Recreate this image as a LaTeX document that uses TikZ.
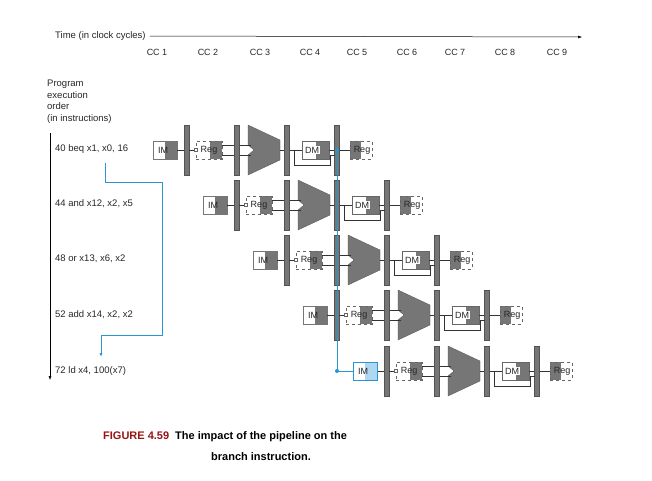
\documentclass[tikz,border=0pt]{standalone}
\usepackage{fontspec}
\setmainfont{Liberation Sans}
\usetikzlibrary{arrows.meta}
\definecolor{sg}{RGB}{118,118,118}
\definecolor{bl}{RGB}{40,150,210}
\definecolor{lb}{RGB}{175,215,240}
\definecolor{fr}{RGB}{150,20,20}
\tikzset{
 bar/.style={fill=sg,draw=sg!70!black,line width=0.3pt},
 wire/.style={draw=black!80,line width=0.8pt},
 lbl/.style={font=\fontsize{9.5}{11.5}\selectfont,anchor=west,inner sep=0,text=black!85},
 ulbl/.style={font=\fontsize{9}{10}\selectfont,inner sep=0,text=black!85},
 unit/.style={draw=black!60,line width=0.5pt},
}
\newcommand\stagerow[5]{% #1 suffix, #2 dx, #3 dy, #4 IM dark, #5 IM light
\begin{scope}[shift={(#2,-#3)}]
 \fill[#5] (153,-141) rectangle (165,-159);
 \fill[#4] (165,-141) rectangle (177,-159);
 \node[draw=#4,minimum width=24,minimum height=18,inner sep=0] (im#1) at (165,-150) {};
 \node[ulbl] at (163,-150) {IM};
 \node[bar,minimum width=5,minimum height=50,inner sep=0] (b1#1) at (186.5,-150) {};
 \fill[sg] (210,-141) rectangle (222,-159);
 \node[draw=black!60,dashed,minimum width=26,minimum height=18,inner sep=0] (rr#1) at (209,-150) {};
 \node[ulbl] at (209,-150) {Reg};
 \draw[unit,fill=white] (194,-148) rectangle (197,-151);
 \node[bar,minimum width=5,minimum height=50,inner sep=0] (b2#1) at (237,-150) {};
 \path[fill=sg,draw=sg!70!black,line width=0.3pt] (248,-125) -- (280,-140) -- (280,-160) -- (248,-175) -- (248,-155) -- (254,-150) -- (248,-145) -- cycle;
 \coordinate (alu#1) at (280,-150);
 \node[bar,minimum width=5,minimum height=50,inner sep=0] (b3#1) at (287,-150) {};
 \fill[sg] (316,-141) rectangle (329,-159);
 \node[draw=black!60,minimum width=27,minimum height=18,inner sep=0] (dm#1) at (315.5,-150) {};
 \node[ulbl,fill=white,inner sep=1pt] at (312,-150) {DM};
 \node[bar,minimum width=5,minimum height=50,inner sep=0] (b4#1) at (337,-150) {};
 \fill[sg] (350,-141) rectangle (361,-159);
 \node[draw=black!60,dashed,minimum width=22,minimum height=18,inner sep=0] (rw#1) at (361,-150) {};
 \node[ulbl] at (362,-150) {Reg};
 \draw[wire] (im#1.east) -- (b1#1.west);
 \draw[wire] (b1#1.east) -- (194,-150);
 \draw[wire] (rr#1.east|-0,-145) -- (b2#1.west|-0,-145);
 \draw[wire] (rr#1.east|-0,-155) -- (b2#1.west|-0,-155);
 \draw[wire] (b2#1.east|-0,-145) -- (251,-145);
 \draw[wire] (b2#1.east|-0,-155) -- (251,-155);
 \draw[wire] (alu#1) -- (b3#1.west);
 \draw[wire] (b3#1.east) -- (dm#1.west);
 \draw[wire] (dm#1.east) -- (b4#1.west);
 \draw[wire] (294,-150) -- (294,-165) -- (330,-165) -- (330,-155) -- (334.5,-155);
 \draw[wire] (b4#1.east) -- (rw#1.west);
\end{scope}}
\begin{document}
\begin{tikzpicture}[x=1pt,y=1pt]
\useasboundingbox (0,0) rectangle (652,-480);
\node[lbl] (time) at (55,-36) {Time (in clock cycles)};
\coordinate (tend) at (582,-37);
\draw[-{Latex[length=4pt]},line width=0.5pt] (time.east) ++(4,0) -- (tend);
\foreach \x/\t in {157/1,208/2,260/3,310/4,357/5,407/6,455/7,505/8,557/9}
  \node[ulbl] (cc\t) at (\x,-52) {CC \t};
\node[lbl,align=left,anchor=north west] (peo) at (47,-80) {Program\\execution\\order\\(in instructions)};
\coordinate (pa) at (50,-133);
\coordinate (pb) at (50,-380);
\draw[-{Latex[length=4pt]},line width=0.5pt] (pa) -- (pb);
\node[lbl] (i1) at (55,-149) {40 beq x1, x0, 16};
\node[lbl] (i2) at (55,-204) {44 and x12, x2, x5};
\node[lbl] (i3) at (55,-259) {48 or x13, x6, x2};
\node[lbl] (i4) at (55,-315) {52 add x14, x2, x2};
\node[lbl] (i5) at (55,-371) {72 ld x4, 100(x7)};
\stagerow{a}{0}{0}{sg}{white}
\stagerow{b}{50}{55}{sg}{white}
\stagerow{c}{100}{110}{sg}{white}
\stagerow{d}{150}{165}{sg}{white}
\stagerow{e}{200}{221}{lb}{white}
\coordinate (s1) at (105,-163);
\coordinate (s2) at (101,-357);
\draw[bl,line width=0.8pt,-{Latex[length=4pt]}] (s1) -- (105,-182) -- (162,-182) -- (162,-335) -- (101,-335) -- (s2);
\draw[bl,line width=0.8pt] (b4a.center) -- (b4a.center|-ime.west) -- (ime.west);
\draw[bl,line width=0.6pt] (ime.north west) rectangle (ime.south east);
\fill[bl] (b4a.center) circle (2);
\fill[bl] (b4a.center|-ime.west) circle (2);
\node[font=\bfseries\fontsize{11}{13}\selectfont,anchor=west,inner sep=0,align=left] (cap) at (103,-437) {\textcolor{fr}{FIGURE 4.59}\hspace{6pt}The impact of the pipeline on the};
\node[font=\bfseries\fontsize{11}{13}\selectfont,anchor=west,inner sep=0] (cap2) at (211,-457) {branch instruction.};
\end{tikzpicture}
\end{document}
